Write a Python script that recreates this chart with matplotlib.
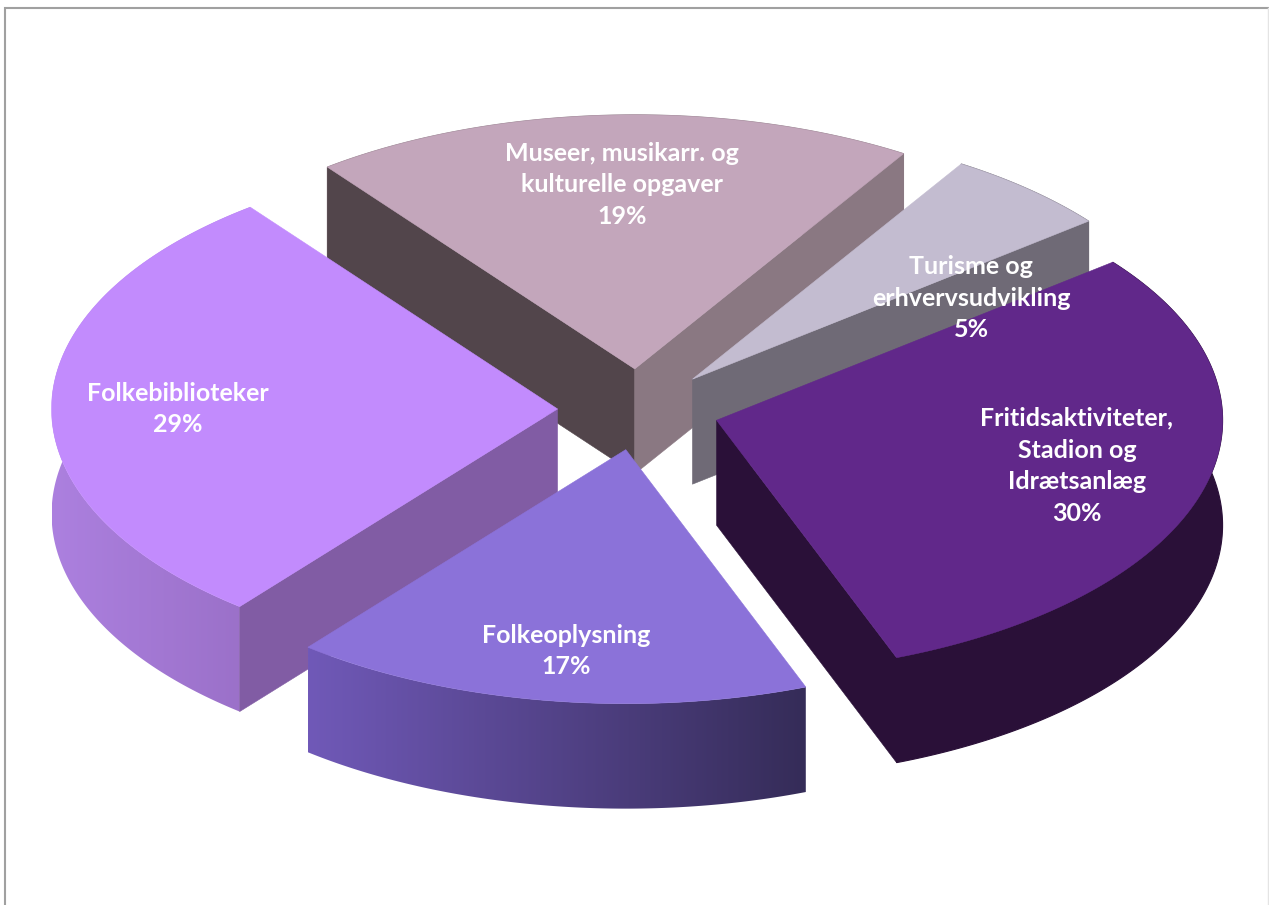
import numpy as np
import matplotlib
matplotlib.use("Agg")
import matplotlib.pyplot as plt
from matplotlib.colors import LinearSegmentedColormap
from matplotlib.patches import Polygon

# Data, clockwise from the start angle (shares;
# the labels show them rounded to whole percent)
names = ["Museer, musikarr. og\nkulturelle opgaver", "Turisme og\nerhvervsudvikling",
         "Fritidsaktiviteter,\nStadion og\nIdrætsanlæg", "Folkeoplysning", "Folkebiblioteker"]
values = [19.3, 5.4, 29.9, 16.6, 28.8]

# Styling
top_colors = ["#C3A6BB", "#C3BCD0", "#61288A", "#8B72D9", "#C28BFD"]
wall_start_colors = ["#52454B", "#6F6A76", "#2A1038", "#5A4A9A", "#815CA4"]
wall_end_colors = ["#8A7882", "#6F6A76", "#2A1038", "#5A4A9A", "#815CA4"]
rim_left = ["#8A7882", "#6F6A76", "#2A1038", "#7059B8", "#AC80DF"]
rim_right = ["#8A7882", "#6F6A76", "#2A1038", "#352C58", "#9A70C8"]
label_xy = [(622, 185), (971, 298), (1077, 466), (566, 651), (178, 409)]

# Layout in pixels
CX, CY, RX, RY = 638.5, 409.5, 506, 254
DEPTH = 105
EXPLODE = 0.16
START = 127.4

fig = plt.figure(figsize=(12.69, 9.05), dpi=100, facecolor="white")
ax = fig.add_axes([0, 0, 1, 1])


def point(ox, oy, deg, r=1.0):
    t = np.radians(deg)
    return ox + RX * r * np.cos(t), oy - RY * r * np.sin(t)


fractions = np.array(values) / sum(values)
a0s = START - 360 * np.concatenate([[0], np.cumsum(fractions)[:-1]])
a1s = a0s - 360 * fractions
mids = (a0s + a1s) / 2
order = np.argsort(-np.sin(np.radians(mids)))

for z, i in enumerate(order):
    a0, a1, mid = a0s[i], a1s[i], mids[i]
    ox, oy = point(CX, CY, mid, EXPLODE)
    ts = np.linspace(a0, a1, 200)
    xs, ys = point(ox, oy, ts)
    base = z * 10 + 1

    # rim: solid, or with a horizontal gradient clipped to its outline
    rim = np.vstack([np.column_stack([xs, ys]), np.column_stack([xs, ys + DEPTH])[::-1]])
    if rim_left[i] == rim_right[i]:
        ax.add_patch(Polygon(rim, closed=True, fc=rim_left[i], ec=rim_left[i], lw=0.8, zorder=base))
    else:
        rim_patch = Polygon(rim, closed=True, fc="none", ec="none", zorder=base)
        ax.add_patch(rim_patch)
        cmap = LinearSegmentedColormap.from_list("r", [rim_left[i], rim_right[i]])
        im = ax.imshow(np.linspace(0, 1, 256)[None, :], cmap=cmap, aspect="auto",
                       extent=(xs.min(), xs.max(), ys.max() + DEPTH, ys.min()),
                       zorder=base, interpolation="bilinear")
        im.set_clip_path(rim_patch)

    # radial walls that face the viewer
    if np.sin(np.radians(a0 + 90)) < 0:
        ax.add_patch(Polygon([(ox, oy), (xs[0], ys[0]), (xs[0], ys[0] + DEPTH), (ox, oy + DEPTH)],
                             closed=True, fc=wall_start_colors[i], ec=wall_start_colors[i],
                             lw=0.4, zorder=base + 1))
    if np.sin(np.radians(a1 - 90)) < 0:
        ax.add_patch(Polygon([(ox, oy), (xs[-1], ys[-1]), (xs[-1], ys[-1] + DEPTH), (ox, oy + DEPTH)],
                             closed=True, fc=wall_end_colors[i], ec=wall_end_colors[i],
                             lw=0.4, zorder=base + 1))

    # top face
    ax.add_patch(Polygon(np.vstack([[ox, oy], np.column_stack([xs, ys])]), closed=True,
                         fc=top_colors[i], ec=top_colors[i], lw=0.4, zorder=base + 2))

for name, v, (lx, ly) in zip(names, values, label_xy):
    ax.text(lx, ly, f"{name}\n{round(v)}%", color="white", fontsize=18, fontweight="bold",
            family="Lato", ha="center", va="center", linespacing=1.46, zorder=200)

# chart frame, cut off by the bottom of the image
ax.plot([5, 5, 1268], [905, 8, 8], color="#A0A0A0", lw=1.5, zorder=0, solid_joinstyle="miter")
ax.plot([1268, 1268], [8, 905], color="#E4E4E4", lw=1.0, zorder=0)

ax.set_xlim(0, 1269)
ax.set_ylim(905, 0)
ax.axis("off")
fig.savefig("out.png", dpi=100, facecolor="white")
